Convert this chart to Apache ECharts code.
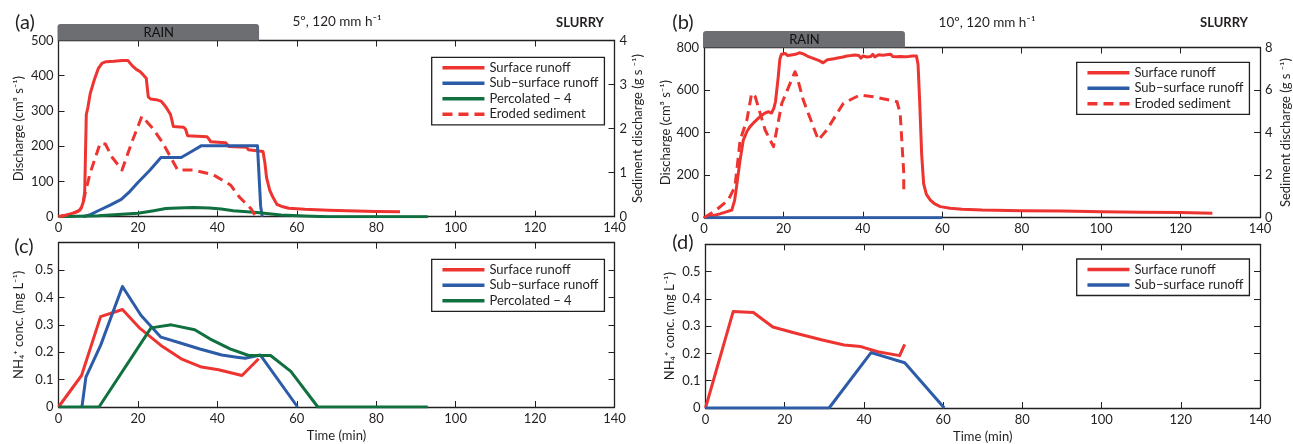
<!DOCTYPE html>
<html><head><meta charset="utf-8">
<script src="https://cdn.jsdelivr.net/npm/echarts@6/dist/echarts.min.js"></script>
<style>html,body{margin:0;padding:0;background:#fff}#c{width:1293px;height:444px}</style>
</head><body><div id="c"></div><script>
// ---------- data ----------
const timeTicks = [0, 20, 40, 60, 80, 100, 120, 140];
const rainA = [0, 50.5];
const rainB = [0, 50.6];
// (a) 5 deg discharge (cm3/s) and sediment (g/s)
const aSurface = [[0,0],[1,3],[2,5],[3,8],[4,11],[5,16],[5.7,24],[6.2,40],[6.6,70],[7,290],[7.4,310],[8,350],[9,388],[10,420],[11,436],[12,440],[14,441],[16,443],[17.5,443],[18.6,428],[19.6,418],[20.5,412],[21.3,403],[22.1,393],[22.6,340],[23.2,334],[25,331],[25.8,328],[26.6,318],[27.4,305],[28.2,290],[28.6,272],[28.9,256],[31.5,254],[32,248],[32.5,230],[37.4,227],[37.9,220],[38.3,213],[42.1,210],[42.5,205],[42.9,199],[47.4,197],[47.8,190],[48.2,185],[51.5,185],[52,150],[52.4,110],[53.2,75],[54,55],[55,35],[56.5,28],[58,24],[62,21],[68,18],[75,16],[80,15],[86,14]];
const aSubsurface = [[6.2,0],[8,6],[10.4,19],[13,33],[15.8,49],[18,72],[20,97],[23,132],[25.8,168],[30.9,168],[33.5,185],[35.9,201],[50.1,201],[50.9,30],[51.3,0]];
const aPercolated = [[0,0],[10,3],[16,7],[20,10],[24,17],[27,23],[30,25],[34,26],[38,25],[41,22],[44,17],[50,12],[56,5],[62,2],[68,0],[93,0]];
const aSediment = [[0,0],[3,0.05],[5.4,0.15],[6.2,0.3],[6.7,0.53],[8,1.0],[10.5,1.67],[11.8,1.65],[13.5,1.35],[16,1.06],[18.5,1.7],[21,2.28],[23.8,2.0],[26.3,1.67],[30,1.06],[34,1.06],[39,0.95],[43.3,0.72],[45.5,0.45],[48.4,0.19],[49.7,0]];
// (b) 10 deg
const bSurface = [[0,0],[2,8],[4,18],[6,30],[7,36],[7.7,80],[8.2,146],[9,260],[9.9,365],[10.8,405],[11.6,428],[12.8,452],[14.1,475],[15.2,490],[16.2,498],[17,492],[17.6,515],[18,545],[18.7,663],[19.1,745],
[19.5,768],[20,760],[20.5,772],[21,762],[21.5,770],[22,765],[22.5,773],[23,768],[23.5,770],[24,775],[24.5,777],[25,770],[25.5,765],[26,760],[26.5,758],[27,752],[27.5,748],[28,745],[28.5,742],[29,738],[29.5,734],[30,728],[30.5,735],[31,742],[31.5,738],[32,745],[32.5,740],[33,748],[33.5,744],[34,752],[34.5,746],[35,755],[35.5,750],[36,760],[36.5,752],[37,762],[37.5,754],[38,765],[38.5,756],[39,762],[39.5,750],[40,760],[40.5,766],[41,755],[41.5,764],[42,758],[42.5,768],[43,756],[43.5,762],[44,766],[44.5,758],[45,764],[45.5,756],[46,766],[46.5,760],[47,768],[47.5,758],[48,764],[48.5,756],[49,762],[49.5,758],[50,765],[50.5,757],[51,762],[51.5,758],[52,764],[52.5,760],[53,762],[53.5,760],
[53.9,720],[54.3,550],[54.8,300],[55.3,160],[56,110],[57,83],[58,66],[59.5,52],[62,44],[65,40],[70,36],[80,33],[90,31],[100,28],[110,26],[120,24],[128,21]];
const bSubsurface = [[0,0],[60,0]];
const bSediment = [[0,0],[3,0.35],[6.1,0.83],[7.8,1.46],[9.1,3.65],[10.8,4.59],[12,5.85],[12.9,5.69],[15.4,4.12],[17.5,3.34],[19.6,5.38],[22.9,6.86],[23.3,6.7],[25,5.53],[28.8,3.65],[30.9,4.12],[35.1,5.38],[39.3,5.77],[42.7,5.69],[48.6,5.45],[49.4,4.9],[50.3,2.09],[50.3,1.15]];
// (c) NH4 conc, 5 deg
const cSurface = [[0,0],[5.8,0.115],[10.6,0.33],[16.1,0.356],[20.3,0.29],[25.8,0.225],[30.9,0.176],[36,0.146],[40.3,0.136],[46.2,0.115],[50.4,0.176]];
const cSubsurface = [[5.9,0],[6.9,0.109],[10.6,0.225],[16.1,0.44],[20.8,0.334],[25.8,0.255],[30.9,0.233],[35.6,0.212],[41.1,0.19],[44.9,0.182],[47,0.178],[50.8,0.19],[60.2,0]];
const cPercolated = [[0,0],[10.2,0],[23.3,0.289],[28.4,0.3],[34.3,0.282],[38.1,0.249],[43.2,0.212],[47.9,0.188],[53.4,0.188],[58.5,0.13],[65.3,0],[93,0]];
// (d) NH4 conc, 10 deg
const dSurface = [[0,0],[7,0.354],[12.1,0.35],[17,0.297],[22.3,0.276],[29.5,0.249],[35,0.231],[39.2,0.225],[43.5,0.206],[49,0.192],[50.3,0.233]];
const dSubsurface = [[0,0],[31.2,0],[41.8,0.203],[50.3,0.166],[60.3,0]];

const N_SURF = 'Surface runoff', N_SUB = 'Sub\u2212surface runoff', N_PERC = 'Percolated \u2212 4', N_SED = 'Eroded sediment';

// ---------- styling ----------
const FF = 'Lato, "Open Sans", sans-serif';
const INK = '#231f20';
const RED = '#ee3430', BLUE = '#2c5ba8', GREEN = '#10703f', RAINC = '#6d6e71';

const grids = [
  {left: 58.5, top: 40.5, width: 556, height: 176.2},
  {left: 704, top: 47.5, width: 556, height: 170.2},
  {left: 58.5, top: 242.7, width: 556, height: 164.3},
  {left: 705.5, top: 244.3, width: 554.5, height: 164}
];

function xAx(g, pos) {
  return {type: 'value', gridIndex: g, position: pos, min: timeTicks[0], max: timeTicks[timeTicks.length - 1], interval: 20,
    axisLine: {show: true, onZero: false, lineStyle: {color: INK, width: 1.3}},
    axisTick: {show: true, inside: true, length: 6, lineStyle: {color: INK, width: 1}},
    axisLabel: {show: pos === 'bottom', color: INK, fontSize: 13, fontFamily: FF, margin: 5},
    splitLine: {show: false},
    name: (pos === 'bottom' && g >= 2) ? 'Time (min)' : '', nameLocation: 'middle', nameGap: 22,
    nameTextStyle: {color: INK, fontSize: 13, fontFamily: FF}};
}
function yAx(g, pos, max, interval, name, gap, showLabel, hideMax) {
  return {type: 'value', gridIndex: g, position: pos, min: 0, max: max, interval: interval,
    axisLine: {show: true, onZero: false, lineStyle: {color: INK, width: 1.3}},
    axisTick: {show: true, inside: true, length: 6, lineStyle: {color: INK, width: 1}},
    axisLabel: {show: showLabel, color: INK, fontSize: 13, fontFamily: FF, margin: 5, showMaxLabel: !hideMax},
    splitLine: {show: false},
    name: name, nameLocation: 'middle', nameGap: gap, nameRotate: 90,
    nameTextStyle: {color: INK, fontSize: 13, fontFamily: FF}};
}

const xAxis = [xAx(0,'bottom'), xAx(0,'top'), xAx(1,'bottom'), xAx(1,'top'), xAx(2,'bottom'), xAx(2,'top'), xAx(3,'bottom'), xAx(3,'top')];
const DIS = 'Discharge (cm\u00b3 s\u207b\u00b9)';
const SED = 'Sediment discharge (g s \u207b\u00b9)';
const NH = 'NH\u2084\u207a conc. (mg L\u207b\u00b9)';
const yAxis = [
  yAx(0, 'left', 500, 100, DIS, 33, true, false),
  yAx(0, 'right', 4, 1, SED, 15, true, false),
  yAx(1, 'left', 800, 200, DIS, 27, true, false),
  yAx(1, 'right', 8, 2, SED, 19, true, false),
  yAx(2, 'left', 0.6, 0.1, NH, 33, true, true),
  yAx(2, 'right', 0.6, 0.1, '', 10, false, true),
  yAx(3, 'left', 0.6, 0.1, NH, 29, true, true),
  yAx(3, 'right', 0.6, 0.1, '', 10, false, true)
];

function line(name, data, color, xi, yi, dashed) {
  return {type: 'line', name: name, data: data, xAxisIndex: xi, yAxisIndex: yi, symbol: 'none', silent: true,
    lineStyle: {color: color, width: 3, type: dashed ? [10, 6] : 'solid', join: 'round'},
    itemStyle: {color: color}, animation: false};
}
function rain(range, xi, yi) {
  return {type: 'custom', name: 'rain', xAxisIndex: xi, yAxisIndex: yi, clip: false, silent: true, animation: false,
    data: [[range[0], range[1], 0]], encode: {x: [0, 1], y: 2},
    renderItem: function (params, api) {
      const x0 = api.coord([api.value(0), 0])[0];
      const x1 = api.coord([api.value(1), 0])[0];
      const top = params.coordSys.y;
      return {type: 'group', children: [
        {type: 'rect', shape: {x: x0 - 1, y: top - 16.5, width: x1 - x0 + 1, height: 16.5, r: [3, 3, 0, 0]}, style: {fill: RAINC}},
        {type: 'text', style: {text: 'RAIN', x: (x0 + x1) / 2, y: top - 8, align: 'center', verticalAlign: 'middle', fill: '#111', fontSize: 13, fontFamily: FF}}
      ]};
    }};
}

const series = [
  rain(rainA, 0, 0), rain(rainB, 2, 2),
  line(N_SURF, aSurface, RED, 0, 0), line(N_SUB, aSubsurface, BLUE, 0, 0), line(N_PERC, aPercolated, GREEN, 0, 0), line(N_SED, aSediment, RED, 0, 1, true),
  line(N_SURF, bSurface, RED, 2, 2), line(N_SUB, bSubsurface, BLUE, 2, 2), line(N_SED, bSediment, RED, 2, 3, true),
  line(N_SURF, cSurface, RED, 4, 4), line(N_SUB, cSubsurface, BLUE, 4, 4), line(N_PERC, cPercolated, GREEN, 4, 4),
  line(N_SURF, dSurface, RED, 6, 6), line(N_SUB, dSubsurface, BLUE, 6, 6)
];

function leg(left, top, names) {
  return {left: left, top: top, orient: 'vertical', data: names, selectedMode: false,
    itemWidth: 42, itemHeight: 14, itemGap: 2.5, padding: [4, 6, 4, 9],
    itemStyle: {opacity: 0},
    lineStyle: {width: 3.5},
    borderColor: INK, borderWidth: 1.3, backgroundColor: '#fff', borderRadius: 0,
    textStyle: {color: INK, fontSize: 13, fontFamily: FF, width: 112}};
}
const legend = [
  leg(431.7, 57.3, [N_SURF, N_SUB, N_PERC, N_SED]),
  leg(1076.7, 62.3, [N_SURF, N_SUB, N_SED]),
  leg(431.7, 259.3, [N_SURF, N_SUB, N_PERC]),
  leg(1076.7, 259, [N_SURF, N_SUB])
];

function txt(x, y, s, size, weight, align) {
  return {type: 'text', x: x, y: y, silent: true, style: {text: s, fill: INK, fontSize: size, fontWeight: weight || 'normal', fontFamily: FF, align: align || 'center', verticalAlign: 'middle'}};
}
const graphic = [
  txt(25, 23, '(a)', 20), txt(683, 23, '(b)', 20), txt(24, 247, '(c)', 20), txt(683, 243, '(d)', 20),
  txt(337, 22, '5\u00ba, 120 mm h\u207b\u00b9', 13.5), txt(580, 22.5, 'SLURRY', 13, 'bold'),
  txt(987, 23, '10\u00ba, 120 mm h\u207b\u00b9', 13.5), txt(1224, 22.5, 'SLURRY', 13, 'bold')
];

const chart = echarts.init(document.getElementById('c'), null, {renderer: 'canvas'});
chart.setOption({animation: false, backgroundColor: '#fff', grid: grids, xAxis: xAxis, yAxis: yAxis, series: series, legend: legend, graphic: graphic});
</script></body></html>
